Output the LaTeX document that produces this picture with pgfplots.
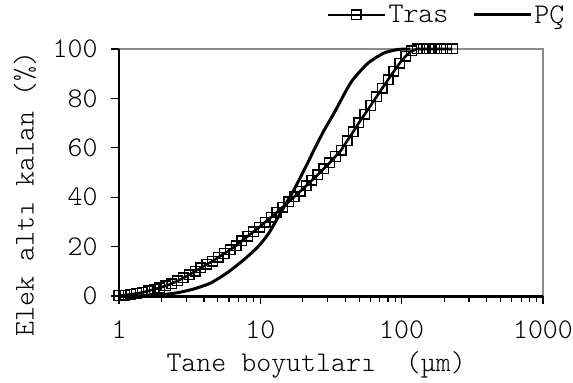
\documentclass[border=0pt]{standalone}
\usepackage{fontspec}
\setmonofont{Latin Modern Mono Light}
\usepackage{pgfplots}
\pgfplotsset{compat=1.18}

\newcommand{\chartfont}{\ttfamily\fontsize{28.5bp}{32bp}\selectfont}

\begin{document}
\begin{tikzpicture}
\begin{semilogxaxis}[
  at={(0,0)}, anchor=south west,
  scale only axis, width=424bp, height=247bp,
  xmin=1, xmax=1000, ymin=0, ymax=100,
  xtick={1,10,100,1000}, xticklabels={1,10,100,1000},
  ytick={0,20,40,60,80,100},
  tick pos=left, tick align=outside,
  major tick length=8bp, minor tick length=5.5bp,
  tick style={black, line width=1.2bp},
  axis line style={draw=none},
  clip=false,
  /pgf/number format/assume math mode=true,
  tick label style={font=\chartfont},
  xticklabel style={yshift=-13bp},
  yticklabel style={xshift=-10bp},
  xlabel={Tane boyutları\ \ (µm)},
  ylabel={Elek altı kalan (\%)},
  label style={font=\chartfont},
  xlabel style={at={(rel axis cs:0.465,-0.279)}, anchor=center},
  ylabel style={at={(rel axis cs:-0.222,0.413)}, anchor=center, rotate=0},
  legend columns=2,
  legend style={at={(rel axis cs:0.49,1.138)}, anchor=west, draw=none, fill=none,
    font=\chartfont, inner sep=0pt,
    /tikz/every even column/.append style={column sep=22bp}},
  legend image code/.code={
    \draw[mark repeat=2, mark phase=2, #1]
      plot coordinates {(0bp,0bp) (28bp,0bp) (57bp,0bp)};
  },
]
% plot frame: grey top/right, black left, heavy black base line
\draw[black!45, line width=1.2bp] (rel axis cs:0,1) -- (rel axis cs:1,1) -- (rel axis cs:1,0);
\draw[black, line width=1.8bp] (rel axis cs:0,0) -- (rel axis cs:0,1);
\draw[black, line width=3bp] (rel axis cs:0,0) -- (rel axis cs:1,0);

% Tras: cumulative passing, square markers
\addplot[black, line width=2.6bp, mark=square, mark size=4.8bp,
  mark options={solid, line width=1.4bp}] coordinates {
  (1.00,0.2) (1.10,0.4) (1.21,0.7) (1.33,1.0) (1.46,1.45) (1.61,2.05)
  (1.77,2.7) (1.95,3.35) (2.14,4.1) (2.36,5.0) (2.59,6.1) (2.85,7.3)
  (3.14,8.6) (3.45,10.0) (3.80,11.4) (4.18,12.8) (4.59,14.1) (5.05,15.7)
  (5.56,17.2) (6.12,18.7) (6.73,20.4) (7.40,22.3) (8.14,24.2) (8.95,26.0)
  (9.85,27.9) (10.8,29.9) (11.9,31.9) (13.1,33.9) (14.4,36.0) (15.9,38.1)
  (17.4,40.2) (19.2,42.4) (21.1,44.6) (23.2,46.9) (25.5,49.1) (28.1,51.5)
  (30.9,53.9) (34.0,56.5) (37.4,59.1) (41.1,62.8) (45.3,66.4) (49.8,70.1)
  (54.8,73.6) (60.3,77.1) (66.3,80.6) (72.9,84.1) (80.2,87.6) (88.2,91.0)
  (97.0,94.3) (106.7,97.1) (117.4,99.2) (129.1,100) (142.0,100) (156.2,100)
  (171.8,100) (189.0,100) (207.9,100) (228.7,100)
};
\addlegendentry{Tras}

% PÇ: cumulative passing, plain line
\addplot[black, line width=3bp, smooth, tension=0.4] coordinates {
  (1.00,0) (1.41,0.1) (1.96,0.5) (2.58,1.3) (3.36,2.8) (4.43,5.2)
  (5.86,9.5) (7.61,14.6) (9.57,19.8) (11.5,25.5) (14.6,35.8) (17.3,43)
  (21.7,54) (23.9,59) (28.2,67) (33.2,74) (43.9,86.6) (57.9,94.3)
  (75.2,98.4) (94.6,99.8) (115,100)
};
\addlegendentry{PÇ}
\end{semilogxaxis}
\pgfresetboundingbox
\path[use as bounding box] (-119bp,-87bp) rectangle (454bp,296bp);
\end{tikzpicture}
\end{document}
